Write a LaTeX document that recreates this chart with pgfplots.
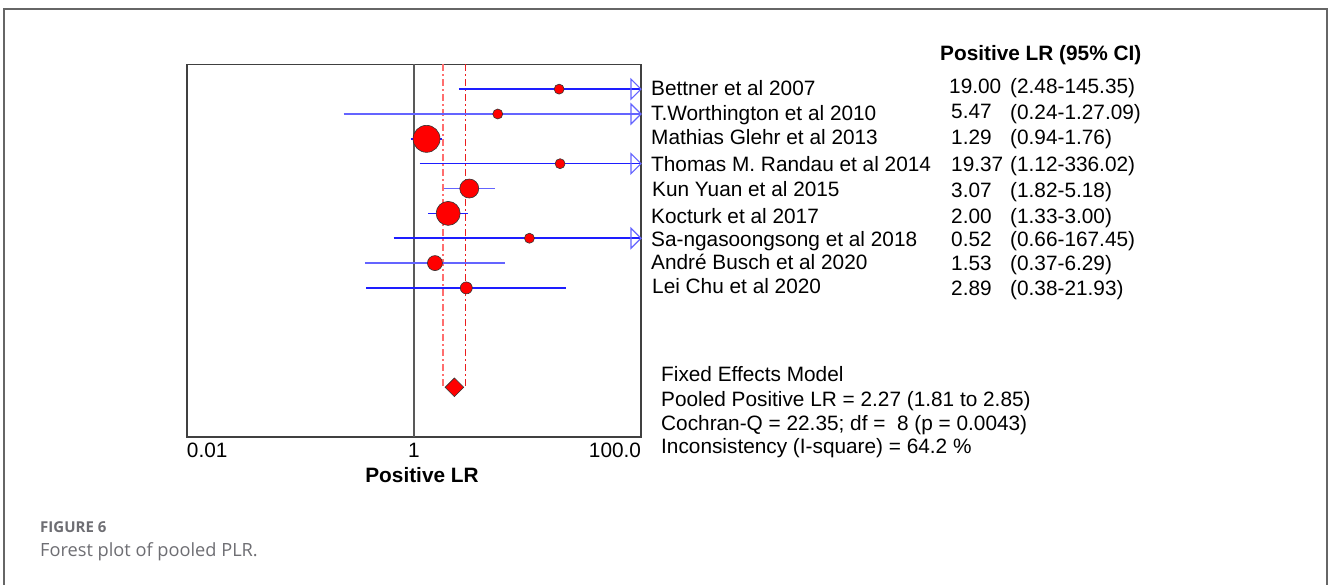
\documentclass[border=0pt]{standalone}
\usepackage{pgfplots}
\usepackage{pgfplotstable}
\pgfplotsset{compat=1.18}
\usepackage{fontspec}
\setmainfont{Liberation Sans}
\newfontfamily\capfont{Open Sans}
\definecolor{ciblue}{RGB}{30,30,255}
\definecolor{cilight}{RGB}{100,100,255}
\definecolor{capgray}{RGB}{110,110,115}
\definecolor{dashlight}{RGB}{255,110,110}
\definecolor{dashdark}{RGB}{235,30,30}

\pgfdeclareplotmark{rtri}{%
  \pgfpathmoveto{\pgfqpoint{-10pt}{10pt}}%
  \pgfpathlineto{\pgfqpoint{0pt}{0pt}}%
  \pgfpathlineto{\pgfqpoint{-10pt}{-10pt}}%
  \pgfpathclose\pgfusepathqstroke}

\pgfplotstableread{
row est lo hi r
1 19.00 2.48 100 5
2 5.47 0.24 100 5
3 1.29 0.94 1.76 13.5
4 19.37 1.12 100 5
5 3.07 1.82 5.18 9.5
6 2.00 1.33 3.00 12
7 10.4 0.66 100 5
8 1.53 0.37 6.29 7.5
9 2.89 0.38 21.93 6
}\studies

\begin{document}
\begin{tikzpicture}
\useasboundingbox (0,0) rectangle (1328pt,584pt);
\fill[white] (0,0) rectangle (1328pt,584pt);
\draw[black!60, line width=1.3pt] (4pt,-30pt) -- (4pt,575pt) -- (1327pt,575pt) -- (1327pt,-30pt);

\begin{axis}[
  at={(187pt,147pt)}, anchor=south west,
  scale only axis, width=454pt, height=372.7pt,
  xmode=log, xmin=0.01, xmax=100,
  ymin=0, ymax=15, y dir=reverse,
  xtick={0.01,1,100},
  xticklabels={\makebox[0pt][l]{0.01},1,\makebox[0pt][r]{100.0}},
  minor xtick={},
  major tick length=0pt,
  ytick=\empty,
  axis line style={draw=black!75, line width=1.2pt},
  x tick label style={anchor=base, yshift=-20.3pt, inner sep=0pt, font=\fontsize{20.8}{24}\selectfont},
  clip=false,
]
% reference line and pooled CI lines
\addplot[draw=black!65, line width=1.3pt] coordinates {(1,0) (1,15)};
\addplot[draw=dashlight, line width=1.5pt, dash pattern=on 7pt off 3pt on 2pt off 3pt] coordinates {(1.81,0) (1.81,13)};
\addplot[draw=dashdark, line width=1.5pt, dash pattern=on 7pt off 3pt on 2pt off 3pt] coordinates {(2.85,0) (2.85,13)};
% study estimates
\addplot[scatter, only marks, mark=*,
  scatter/use mapped color={draw=black!80, fill=red},
  mark options={line width=0.6pt},
  visualization depends on={\thisrow{r} \as \perpointmarksize},
  scatter/@pre marker code/.append style={/tikz/mark size=\perpointmarksize}]
  table[x=est, y=row] {\studies};
% confidence intervals
\addplot[draw=ciblue, line width=1.5pt] coordinates {(2.48,1) (100,1)};
\addplot[draw=cilight, line width=1.5pt] coordinates {(0.24,2) (100,2)};
\addplot[draw=ciblue, line width=1.5pt] coordinates {(0.94,3) (1.76,3)};
\addplot[draw=ciblue, line width=1.5pt] coordinates {(1.12,4) (100,4)};
\addplot[draw=cilight, line width=1.8pt] coordinates {(1.82,5) (5.18,5)};
\addplot[draw=ciblue, line width=1.5pt] coordinates {(1.33,6) (3.00,6)};
\addplot[draw=ciblue, line width=1.5pt] coordinates {(0.66,7) (100,7)};
\addplot[draw=cilight, line width=1.5pt] coordinates {(0.37,8) (6.29,8)};
\addplot[draw=ciblue, line width=1.5pt] coordinates {(0.38,9) (21.93,9)};
% arrows for truncated upper limits
\addplot[only marks, mark=rtri, mark options={line width=1.1pt, draw=cilight}] coordinates {(100,1) (100,2) (100,4) (100,7)};
% pooled estimate
\addplot[only marks, mark=square*, mark size=6.6pt, mark options={rotate=45, fill=red, draw=black!80, line width=0.6pt}] coordinates {(2.27,13)};
\end{axis}

\begin{scope}[x=1pt, y=-1pt, shift={(0pt,584pt)}, font=\fontsize{20.8}{24}\selectfont, every node/.style={inner sep=0pt}]
\node[anchor=base] at (422,482.7) {\bfseries Positive LR};
\node[anchor=base west] at (940,60.5) {\bfseries Positive LR (95\% CI)};
% study names
\node[anchor=base west] at (651,95.5) {Bettner et al 2007};
\node[anchor=base west] at (651,120.5) {T.Worthington et al 2010};
\node[anchor=base west] at (651,145) {Mathias Glehr et al 2013};
\node[anchor=base west] at (651,171.5) {Thomas M. Randau et al 2014};
\node[anchor=base west] at (652,196.7) {Kun Yuan et al 2015};
\node[anchor=base west] at (651,223.3) {Kocturk et al 2017};
\node[anchor=base west] at (651,246.7) {Sa-ngasoongsong et al 2018};
\node[anchor=base west] at (651,270) {Andr\'e Busch et al 2020};
\node[anchor=base west] at (652,293.5) {Lei Chu et al 2020};
% values
\node[anchor=base west] at (949,94) {19.00};
\node[anchor=base west] at (951,118.5) {5.47};
\node[anchor=base west] at (951,145) {1.29};
\node[anchor=base west] at (951,171.5) {19.37};
\node[anchor=base west] at (951,198) {3.07};
\node[anchor=base west] at (951,223.3) {2.00};
\node[anchor=base west] at (951,246.7) {0.52};
\node[anchor=base west] at (951,270.5) {1.53};
\node[anchor=base west] at (951,296) {2.89};
% CIs
\node[anchor=base west] at (1010,94) {(2.48-145.35)};
\node[anchor=base west] at (1010,119.5) {(0.24-1.27.09)};
\node[anchor=base west] at (1010,145) {(0.94-1.76)};
\node[anchor=base west] at (1010,171.5) {(1.12-336.02)};
\node[anchor=base west] at (1010,198) {(1.82-5.18)};
\node[anchor=base west] at (1010,223.3) {(1.33-3.00)};
\node[anchor=base west] at (1010,246.7) {(0.66-167.45)};
\node[anchor=base west] at (1010,270.5) {(0.37-6.29)};
\node[anchor=base west] at (1010,296) {(0.38-21.93)};
% model summary
\node[anchor=base west] at (661,381.7) {Fixed Effects Model};
\node[anchor=base west] at (661,407) {Pooled Positive LR = 2.27 (1.81 to 2.85)};
\node[anchor=base west] at (661,430.5) {Cochran-Q = 22.35; df =\ \ 8 (p = 0.0043)};
\node[anchor=base west] at (661,454) {Inconsistency (I-square) = 64.2 \%};
% caption
\node[anchor=base west, text=capgray] at (40,532.3) {\capfont\fontsize{15}{17}\selectfont\bfseries FIGURE 6};
\node[anchor=base west, text=capgray] at (40,556) {\capfont\fontsize{18.2}{22}\selectfont Forest plot of pooled PLR.};
\end{scope}
\end{tikzpicture}
\end{document}
